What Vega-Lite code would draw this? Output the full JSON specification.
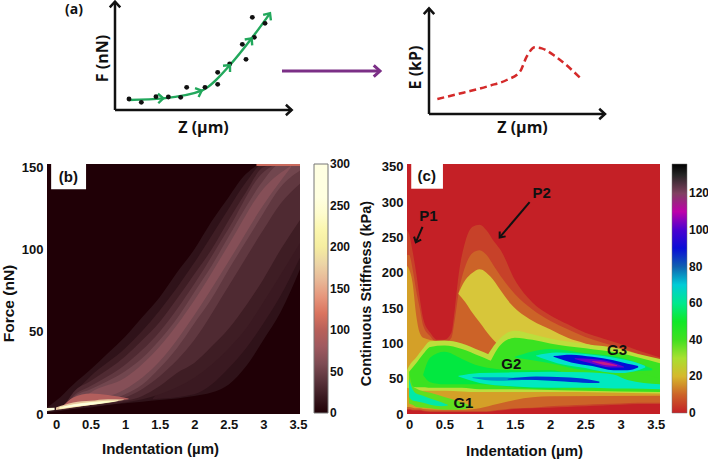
{"$schema":"https://vega.github.io/schema/vega-lite/v6.json","autosize":{"type":"none"},"padding":{"left":47,"top":2,"right":661,"bottom":458},"background":"white","spacing":162,"bounds":"flush","resolve":{"scale":{"color":"independent"}},
"config":{"view":{"stroke":null},"font":"Liberation Sans","axis":{"grid":false,"ticks":false,"domain":false,"labelFontWeight":"bold","labelFontSize":13,"labelColor":"#111","titleColor":"#111","titleFontWeight":"bold","titleFontSize":15,"labelPadding":4,"labelFlush":false,"titleBaseline":"middle","titleAlign":"center","tickCount":20}},
"vconcat":[
{"spacing":107,"bounds":"flush","hconcat":[
{"width":253,"height":112,"layer":[
{"data":{"values":[{"s":"y","z":0,"v":0},{"s":"y","z":0,"v":3.25},{"s":"x","z":0,"v":0},{"s":"x","z":5.3,"v":0}]},"mark":{"type":"line","color":"#111","strokeWidth":2.5},"encoding":{"x":{"field":"z","type":"quantitative","scale":{"domain":[-2.04,5.55],"nice":false,"zero":false},"axis":{"labels":false,"title":"Z (µm)","titleX":156,"titleY":13,"titleFont":"Open Sans","titleFontSize":16}},"y":{"field":"v","type":"quantitative","scale":{"domain":[-0.12,3.24],"nice":false,"zero":false},"axis":{"labels":false,"title":"F (nN)","titleX":55,"titleY":56,"titleFont":"Open Sans","titleFontSize":16}},"detail":{"field":"s"}}},
{"data":{"values":[{"z":0,"v":3.25,"heading":0},{"z":5.3,"v":0,"heading":90}]},"mark":{"type":"point","shape":"M-1,1.1L0,0L1,1.1","filled":false,"color":"#111","strokeWidth":2.5,"size":110,"opacity":1},"encoding":{"x":{"field":"z","type":"quantitative"},"y":{"field":"v","type":"quantitative"},"angle":{"field":"heading","type":"quantitative","scale":null}}},
{"data":{"values":[{"z":0.42,"v":0.30},{"z":1.45,"v":0.35},{"z":2.6,"v":0.58},{"z":3.45,"v":1.35},{"z":4.1,"v":2.15},{"z":4.65,"v":2.9}]},"mark":{"type":"line","color":"#22a85c","strokeWidth":2.4,"interpolate":"monotone"},"encoding":{"x":{"field":"z","type":"quantitative"},"y":{"field":"v","type":"quantitative"}}},
{"data":{"values":[{"z":0.42,"v":0.33},{"z":0.79,"v":0.23},{"z":1.23,"v":0.40},{"z":1.60,"v":0.39},{"z":1.97,"v":0.38},{"z":2.15,"v":0.68},{"z":2.70,"v":0.68},{"z":3.08,"v":1.13},{"z":3.08,"v":0.77},{"z":3.44,"v":1.38},{"z":3.82,"v":1.97},{"z":3.93,"v":1.52},{"z":4.12,"v":2.78},{"z":4.18,"v":2.18},{"z":4.50,"v":2.60}]},"mark":{"type":"circle","color":"#111","size":24,"opacity":1},"encoding":{"x":{"field":"z","type":"quantitative"},"y":{"field":"v","type":"quantitative"}}},
{"data":{"values":[{"z":1.45,"v":0.35,"heading":88},{"z":2.6,"v":0.58,"heading":68},{"z":3.45,"v":1.35,"heading":42},{"z":4.1,"v":2.15,"heading":38},{"z":4.65,"v":2.9,"heading":35}]},"mark":{"type":"point","shape":"M-1,1.1L0,0L1,1.1","filled":false,"color":"#22a85c","strokeWidth":2.4,"size":90,"opacity":1},"encoding":{"x":{"field":"z","type":"quantitative"},"y":{"field":"v","type":"quantitative"},"angle":{"field":"heading","type":"quantitative","scale":null}}},
{"data":{"values":[{"z":5.01,"v":1.17},{"z":7.95,"v":1.17}]},"mark":{"type":"line","color":"#7b2f86","strokeWidth":3,"clip":false},"encoding":{"x":{"field":"z","type":"quantitative"},"y":{"field":"v","type":"quantitative"}}},
{"data":{"values":[{"z":7.95,"v":1.17,"heading":90}]},"mark":{"type":"point","shape":"M-1,1.1L0,0L1,1.1","filled":false,"color":"#7b2f86","strokeWidth":3,"size":130,"opacity":1,"clip":false},"encoding":{"x":{"field":"z","type":"quantitative"},"y":{"field":"v","type":"quantitative"},"angle":{"field":"heading","type":"quantitative","scale":null}}},
{"data":{"values":[{"z":-1.5,"v":3.0,"t":"(a)"}]},"mark":{"type":"text","font":"Open Sans","fontWeight":"bold","fontSize":14,"align":"left","color":"#111"},"encoding":{"x":{"field":"z","type":"quantitative"},"y":{"field":"v","type":"quantitative"},"text":{"field":"t"}}}
]},
{"width":253,"height":112,"layer":[
{"data":{"values":[{"s":"y","z":0,"v":0},{"s":"y","z":0,"v":3.17},{"s":"x","z":0,"v":0},{"s":"x","z":5.28,"v":0}]},"mark":{"type":"line","color":"#111","strokeWidth":2.5},"encoding":{"x":{"field":"z","type":"quantitative","scale":{"domain":[-0.66,6.93],"nice":false,"zero":false},"axis":{"labels":false,"title":"Z (µm)","titleX":115,"titleY":13,"titleFont":"Open Sans","titleFontSize":16}},"y":{"field":"v","type":"quantitative","scale":{"domain":[0,3.36],"nice":false,"zero":false},"axis":{"labels":false,"title":"E (kP)","titleX":8,"titleY":65,"titleFont":"Open Sans","titleFontSize":16}},"detail":{"field":"s"}}},
{"data":{"values":[{"z":0,"v":3.17,"heading":0},{"z":5.28,"v":0,"heading":90}]},"mark":{"type":"point","shape":"M-1,1.1L0,0L1,1.1","filled":false,"color":"#111","strokeWidth":2.5,"size":110,"opacity":1},"encoding":{"x":{"field":"z","type":"quantitative"},"y":{"field":"v","type":"quantitative"},"angle":{"field":"heading","type":"quantitative","scale":null}}},
{"data":{"values":[{"z":0.25,"v":0.45},{"z":1.03,"v":0.64},{"z":1.83,"v":0.85},{"z":2.33,"v":1.02},{"z":2.73,"v":1.27},{"z":2.93,"v":1.72},{"z":3.18,"v":2.0},{"z":3.38,"v":1.97},{"z":3.83,"v":1.70},{"z":4.53,"v":1.09}]},"mark":{"type":"line","color":"#d42a2a","strokeWidth":2.5,"strokeDash":[7,4],"interpolate":"monotone"},"encoding":{"x":{"field":"z","type":"quantitative"},"y":{"field":"v","type":"quantitative"}}}
]}
]},
{"spacing":107,"bounds":"flush","resolve":{"scale":{"color":"independent"}},"hconcat":[
{"width":253,"height":250,"view":{"fill":"#200006"},"layer":[
{"data":{"values":[
{"b":"a","v":12,"x":-0.13,"lo":1,"hi":4},{"b":"a","v":12,"x":0,"lo":1.5,"hi":8},{"b":"a","v":12,"x":0.25,"lo":3,"hi":18},{"b":"a","v":12,"x":0.5,"lo":4,"hi":27},{"b":"a","v":12,"x":0.75,"lo":5.5,"hi":37},{"b":"a","v":12,"x":1,"lo":6.5,"hi":47},{"b":"a","v":12,"x":1.25,"lo":7.5,"hi":59},{"b":"a","v":12,"x":1.5,"lo":8.5,"hi":71},{"b":"a","v":12,"x":1.75,"lo":9.5,"hi":86},{"b":"a","v":12,"x":2,"lo":11,"hi":100},{"b":"a","v":12,"x":2.25,"lo":13,"hi":117},{"b":"a","v":12,"x":2.5,"lo":18,"hi":132},{"b":"a","v":12,"x":2.75,"lo":29,"hi":146},{"b":"a","v":12,"x":3,"lo":45,"hi":152},{"b":"a","v":12,"x":3.25,"lo":62,"hi":152},{"b":"a","v":12,"x":3.53,"lo":88,"hi":152},
{"b":"s","v":19,"x":1.4,"lo":9,"hi":9.5},{"b":"s","v":19,"x":2,"lo":12,"hi":38},{"b":"s","v":19,"x":2.25,"lo":18,"hi":50},{"b":"s","v":19,"x":2.5,"lo":28,"hi":65},{"b":"s","v":19,"x":2.75,"lo":40,"hi":80},{"b":"s","v":19,"x":3,"lo":55,"hi":97},{"b":"s","v":19,"x":3.25,"lo":72,"hi":115},{"b":"s","v":19,"x":3.53,"lo":95,"hi":132},
{"b":"a2","v":22,"x":0.05,"lo":2.2,"hi":2.6},{"b":"a2","v":22,"x":0.5,"lo":4.5,"hi":23},{"b":"a2","v":22,"x":1,"lo":7,"hi":40},{"b":"a2","v":22,"x":1.5,"lo":12,"hi":63},{"b":"a2","v":22,"x":2,"lo":22,"hi":92},{"b":"a2","v":22,"x":2.5,"lo":40,"hi":125},{"b":"a2","v":22,"x":2.75,"lo":52,"hi":141},{"b":"a2","v":22,"x":3,"lo":68,"hi":152},{"b":"a2","v":22,"x":3.53,"lo":104,"hi":152},
{"b":"m","v":32,"x":0.1,"lo":2.8,"hi":3.2},{"b":"m","v":32,"x":0.25,"lo":4,"hi":13},{"b":"m","v":32,"x":0.5,"lo":5.5,"hi":20},{"b":"m","v":32,"x":0.75,"lo":6.5,"hi":27},{"b":"m","v":32,"x":1,"lo":8,"hi":35},{"b":"m","v":32,"x":1.25,"lo":11,"hi":45},{"b":"m","v":32,"x":1.5,"lo":17,"hi":56},{"b":"m","v":32,"x":1.75,"lo":25,"hi":70},{"b":"m","v":32,"x":2,"lo":31,"hi":85},{"b":"m","v":32,"x":2.25,"lo":41,"hi":100},{"b":"m","v":32,"x":2.5,"lo":52,"hi":118},{"b":"m","v":32,"x":2.75,"lo":66,"hi":135},{"b":"m","v":32,"x":3,"lo":82,"hi":150},{"b":"m","v":32,"x":3.25,"lo":100,"hi":152},{"b":"m","v":32,"x":3.53,"lo":118,"hi":152},
{"b":"m2","v":42,"x":0.1,"lo":3,"hi":3.5},{"b":"m2","v":42,"x":0.25,"lo":4.5,"hi":11},{"b":"m2","v":42,"x":0.5,"lo":6,"hi":17},{"b":"m2","v":42,"x":1,"lo":10,"hi":30},{"b":"m2","v":42,"x":1.5,"lo":23,"hi":50},{"b":"m2","v":42,"x":2,"lo":45,"hi":79},{"b":"m2","v":42,"x":2.5,"lo":78,"hi":113},{"b":"m2","v":42,"x":3,"lo":112,"hi":147},{"b":"m2","v":42,"x":3.25,"lo":128,"hi":152},{"b":"m2","v":42,"x":3.53,"lo":140,"hi":152},
{"b":"r","v":52,"x":0.15,"lo":4,"hi":4.5},{"b":"r","v":52,"x":0.25,"lo":5,"hi":10},{"b":"r","v":52,"x":0.5,"lo":6.5,"hi":15},{"b":"r","v":52,"x":0.75,"lo":8,"hi":20},{"b":"r","v":52,"x":1,"lo":12,"hi":26},{"b":"r","v":52,"x":1.25,"lo":18,"hi":34},{"b":"r","v":52,"x":1.5,"lo":28,"hi":45},{"b":"r","v":52,"x":1.75,"lo":40,"hi":58},{"b":"r","v":52,"x":2,"lo":55,"hi":74},{"b":"r","v":52,"x":2.25,"lo":70,"hi":90},{"b":"r","v":52,"x":2.5,"lo":88,"hi":108},{"b":"r","v":52,"x":2.75,"lo":105,"hi":126},{"b":"r","v":52,"x":3,"lo":122,"hi":142},{"b":"r","v":52,"x":3.25,"lo":138,"hi":152},{"b":"r","v":52,"x":3.53,"lo":148,"hi":152},
{"b":"r2","v":64,"x":0.3,"lo":6,"hi":6.5},{"b":"r2","v":64,"x":0.5,"lo":8,"hi":13},{"b":"r2","v":64,"x":1,"lo":15,"hi":22},{"b":"r2","v":64,"x":1.5,"lo":32,"hi":41},{"b":"r2","v":64,"x":2,"lo":60,"hi":69},{"b":"r2","v":64,"x":2.5,"lo":93,"hi":103},{"b":"r2","v":64,"x":3,"lo":127,"hi":137},{"b":"r2","v":64,"x":3.4,"lo":150,"hi":151},
{"b":"p","v":95,"x":0.08,"lo":3.4,"hi":3.8},{"b":"p","v":95,"x":0.25,"lo":4.5,"hi":10},{"b":"p","v":95,"x":0.5,"lo":6,"hi":12.5},{"b":"p","v":95,"x":0.75,"lo":7.5,"hi":11.5},{"b":"p","v":95,"x":1.05,"lo":9,"hi":9.4},
{"b":"q","v":170,"x":0,"lo":2.5,"hi":4},{"b":"q","v":170,"x":0.25,"lo":4,"hi":7},{"b":"q","v":170,"x":0.5,"lo":5.5,"hi":8},{"b":"q","v":170,"x":0.75,"lo":7,"hi":9},{"b":"q","v":170,"x":0.98,"lo":8.5,"hi":8.8},
{"b":"t","v":235,"x":0.05,"lo":3,"hi":4.2},{"b":"t","v":235,"x":0.25,"lo":4.3,"hi":6},{"b":"t","v":235,"x":0.5,"lo":5.5,"hi":7.3},{"b":"t","v":235,"x":0.75,"lo":6.8,"hi":8},{"b":"t","v":235,"x":0.9,"lo":7.9,"hi":8.2},
{"b":"w","v":300,"x":0.1,"lo":3.9,"hi":4.2},{"b":"w","v":300,"x":0.25,"lo":4.7,"hi":5.6},{"b":"w","v":300,"x":0.5,"lo":5.8,"hi":6.8},{"b":"w","v":300,"x":0.72,"lo":7,"hi":7.2},
{"b":"k","v":250,"x":-0.13,"lo":1.8,"hi":3.6},{"b":"k","v":250,"x":-0.02,"lo":2.4,"hi":3.8},
{"b":"l","v":110,"x":2.9,"lo":150.8,"hi":152},{"b":"l","v":110,"x":3.53,"lo":150.8,"hi":152}
]},"mark":{"type":"area","interpolate":"monotone","clip":true},"encoding":{"x":{"field":"x","type":"quantitative","scale":{"domain":[-0.13,3.53],"nice":false,"zero":false},"axis":{"values":[0,0.5,1,1.5,2,2.5,3,3.5],"format":"~g","title":"Indentation (µm)","titleX":113,"titleY":34}},"y":{"field":"lo","type":"quantitative","scale":{"domain":[0,152],"nice":false},"axis":{"values":[0,50,100,150],"title":"Force (nN)","titleX":-39,"titleY":139,"titleFontSize":15.5}},"y2":{"field":"hi"},"detail":{"field":"b"},"color":{"field":"v","type":"quantitative","scale":{"domain":[0,25,50,75,100,125,150,175,200,225,250,300],"range":["#200006","#432028","#6e444c","#98585f","#b8605a","#e27a60","#e8a890","#e8d0a8","#f5eda0","#fdf8b0","#ffffe0","#ffffff"]},"legend":{"orient":"none","legendX":267,"legendY":0,"title":null,"direction":"vertical","gradientLength":249,"gradientThickness":14,"values":[0,50,100,150,200,250,300],"labelFontWeight":"bold","labelFontSize":12,"labelOffset":2,"labelColor":"#111","labelOverlap":false,"gradientStrokeColor":"#777","gradientStrokeWidth":1,"encode":{"labels":{"update":{"baseline":{"value":"middle"}}}}}}}},
{"data":{"values":[{"x":-0.07,"x2":0.435,"y":136.6,"y2":152}]},"mark":{"type":"rect","color":"white"},"encoding":{"x":{"field":"x","type":"quantitative"},"x2":{"field":"x2"},"y":{"field":"y","type":"quantitative"},"y2":{"field":"y2"}}},
{"data":{"values":[{"x":0.18,"y":144,"t":"(b)"}]},"mark":{"type":"text","fontWeight":"bold","fontSize":15,"color":"#111"},"encoding":{"x":{"field":"x","type":"quantitative"},"y":{"field":"y","type":"quantitative"},"text":{"field":"t"}}}
]},
{"width":253,"height":250,"view":{"fill":"#c42026"},"layer":[
{"data":{"values":[
{"b":"e0","v":5,"x":-0.03,"lo":6,"hi":260},{"b":"e0","v":5,"x":0,"lo":6,"hi":255},{"b":"e0","v":5,"x":0.05,"lo":5,"hi":230},{"b":"e0","v":5,"x":0.1,"lo":5,"hi":200},{"b":"e0","v":5,"x":0.15,"lo":5,"hi":165},{"b":"e0","v":5,"x":0.2,"lo":4,"hi":135},{"b":"e0","v":5,"x":0.3,"lo":3,"hi":115},{"b":"e0","v":5,"x":0.4,"lo":3,"hi":105},{"b":"e0","v":5,"x":0.5,"lo":3,"hi":105},{"b":"e0","v":5,"x":0.6,"lo":3,"hi":115},{"b":"e0","v":5,"x":0.65,"lo":3,"hi":150},{"b":"e0","v":5,"x":0.7,"lo":3,"hi":195},{"b":"e0","v":5,"x":0.8,"lo":3,"hi":245},{"b":"e0","v":5,"x":0.9,"lo":3,"hi":265},{"b":"e0","v":5,"x":1,"lo":3,"hi":268},{"b":"e0","v":5,"x":1.1,"lo":3,"hi":260},{"b":"e0","v":5,"x":1.2,"lo":4,"hi":245},{"b":"e0","v":5,"x":1.3,"lo":5,"hi":232},{"b":"e0","v":5,"x":1.5,"lo":7,"hi":190},{"b":"e0","v":5,"x":1.75,"lo":8,"hi":158},{"b":"e0","v":5,"x":2,"lo":9,"hi":140},{"b":"e0","v":5,"x":2.25,"lo":10,"hi":127},{"b":"e0","v":5,"x":2.5,"lo":11,"hi":115},{"b":"e0","v":5,"x":2.75,"lo":12,"hi":107},{"b":"e0","v":5,"x":3,"lo":13,"hi":99},{"b":"e0","v":5,"x":3.25,"lo":14,"hi":90},{"b":"e0","v":5,"x":3.56,"lo":14,"hi":80},
{"b":"e","v":10,"x":-0.03,"lo":7,"hi":225},{"b":"e","v":10,"x":0,"lo":7,"hi":225},{"b":"e","v":10,"x":0.05,"lo":6,"hi":205},{"b":"e","v":10,"x":0.1,"lo":6,"hi":175},{"b":"e","v":10,"x":0.15,"lo":6,"hi":150},{"b":"e","v":10,"x":0.2,"lo":5,"hi":125},{"b":"e","v":10,"x":0.3,"lo":4,"hi":110},{"b":"e","v":10,"x":0.4,"lo":4,"hi":100},{"b":"e","v":10,"x":0.5,"lo":4,"hi":100},{"b":"e","v":10,"x":0.6,"lo":4,"hi":108},{"b":"e","v":10,"x":0.65,"lo":4,"hi":135},{"b":"e","v":10,"x":0.7,"lo":4,"hi":170},{"b":"e","v":10,"x":0.8,"lo":4,"hi":210},{"b":"e","v":10,"x":0.9,"lo":4,"hi":228},{"b":"e","v":10,"x":1,"lo":4,"hi":232},{"b":"e","v":10,"x":1.1,"lo":4,"hi":225},{"b":"e","v":10,"x":1.2,"lo":5,"hi":210},{"b":"e","v":10,"x":1.3,"lo":6,"hi":195},{"b":"e","v":10,"x":1.5,"lo":8,"hi":170},{"b":"e","v":10,"x":1.75,"lo":9,"hi":148},{"b":"e","v":10,"x":2,"lo":11,"hi":132},{"b":"e","v":10,"x":2.25,"lo":12,"hi":120},{"b":"e","v":10,"x":2.5,"lo":13,"hi":109},{"b":"e","v":10,"x":2.75,"lo":14,"hi":101},{"b":"e","v":10,"x":3,"lo":15,"hi":94},{"b":"e","v":10,"x":3.25,"lo":16,"hi":85},{"b":"e","v":10,"x":3.56,"lo":16,"hi":76},
{"b":"d","v":17,"x":-0.03,"lo":10,"hi":210},{"b":"d","v":17,"x":0,"lo":10,"hi":205},{"b":"d","v":17,"x":0.05,"lo":9,"hi":185},{"b":"d","v":17,"x":0.1,"lo":8,"hi":140},{"b":"d","v":17,"x":0.15,"lo":8,"hi":115},{"b":"d","v":17,"x":0.2,"lo":7,"hi":108},{"b":"d","v":17,"x":0.4,"lo":6,"hi":103},{"b":"d","v":17,"x":0.6,"lo":6,"hi":97},{"b":"d","v":17,"x":0.8,"lo":6,"hi":90},{"b":"d","v":17,"x":1,"lo":8,"hi":85},{"b":"d","v":17,"x":1.25,"lo":14,"hi":78},{"b":"d","v":17,"x":1.5,"lo":20,"hi":62},{"b":"d","v":17,"x":2,"lo":25,"hi":50},{"b":"d","v":17,"x":3.56,"lo":26,"hi":40},
{"b":"h","v":22,"x":0.7,"lo":170,"hi":171},{"b":"h","v":22,"x":0.8,"lo":158,"hi":190},{"b":"h","v":22,"x":0.9,"lo":143,"hi":200},{"b":"h","v":22,"x":1,"lo":130,"hi":205},{"b":"h","v":22,"x":1.15,"lo":110,"hi":195},{"b":"h","v":22,"x":1.3,"lo":95,"hi":175},{"b":"h","v":22,"x":1.45,"lo":85,"hi":155},{"b":"h","v":22,"x":1.75,"lo":70,"hi":132},{"b":"h","v":22,"x":2,"lo":60,"hi":120},{"b":"h","v":22,"x":2.25,"lo":58,"hi":108},{"b":"h","v":22,"x":2.5,"lo":56,"hi":100},{"b":"h","v":22,"x":2.75,"lo":56,"hi":93},{"b":"h","v":22,"x":3,"lo":55,"hi":86},{"b":"h","v":22,"x":3.25,"lo":55,"hi":78},{"b":"h","v":22,"x":3.56,"lo":55,"hi":70},
{"b":"f","v":28,"x":-0.03,"lo":37,"hi":62},{"b":"f","v":28,"x":0,"lo":36,"hi":68},{"b":"f","v":28,"x":0.1,"lo":33,"hi":80},{"b":"f","v":28,"x":0.2,"lo":33,"hi":93},{"b":"f","v":28,"x":0.3,"lo":33,"hi":103},{"b":"f","v":28,"x":0.5,"lo":33,"hi":104},{"b":"f","v":28,"x":0.75,"lo":32,"hi":100},{"b":"f","v":28,"x":1,"lo":31,"hi":90},{"b":"f","v":28,"x":1.25,"lo":31,"hi":80},{"b":"f","v":28,"x":1.5,"lo":31,"hi":75},{"b":"f","v":28,"x":2,"lo":31,"hi":70},{"b":"f","v":28,"x":3.56,"lo":29,"hi":60},
{"b":"g","v":28,"x":1.05,"lo":72,"hi":73},{"b":"g","v":28,"x":1.3,"lo":70,"hi":108},{"b":"g","v":28,"x":1.5,"lo":70,"hi":118},{"b":"g","v":28,"x":1.75,"lo":70,"hi":113},{"b":"g","v":28,"x":2,"lo":70,"hi":107},{"b":"g","v":28,"x":2.5,"lo":70,"hi":99},{"b":"g","v":28,"x":3,"lo":70,"hi":92},{"b":"g","v":28,"x":3.25,"lo":70,"hi":85},{"b":"g","v":28,"x":3.56,"lo":60,"hi":78},
{"b":"i","v":42,"x":0,"lo":40,"hi":60},{"b":"i","v":42,"x":0.1,"lo":38,"hi":72},{"b":"i","v":42,"x":0.2,"lo":38,"hi":85},{"b":"i","v":42,"x":0.3,"lo":37,"hi":95},{"b":"i","v":42,"x":0.5,"lo":37,"hi":97},{"b":"i","v":42,"x":0.75,"lo":37,"hi":92},{"b":"i","v":42,"x":1,"lo":35,"hi":82},{"b":"i","v":42,"x":1.25,"lo":35,"hi":72},{"b":"i","v":42,"x":1.5,"lo":35,"hi":68},{"b":"i","v":42,"x":2,"lo":34,"hi":66},{"b":"i","v":42,"x":3,"lo":32,"hi":64},{"b":"i","v":42,"x":3.56,"lo":31,"hi":58},
{"b":"j","v":42,"x":1.12,"lo":66,"hi":67},{"b":"j","v":42,"x":1.3,"lo":62,"hi":98},{"b":"j","v":42,"x":1.5,"lo":62,"hi":108},{"b":"j","v":42,"x":1.75,"lo":62,"hi":105},{"b":"j","v":42,"x":2,"lo":62,"hi":100},{"b":"j","v":42,"x":2.5,"lo":62,"hi":93},{"b":"j","v":42,"x":3,"lo":60,"hi":86},{"b":"j","v":42,"x":3.25,"lo":58,"hi":80},{"b":"j","v":42,"x":3.56,"lo":50,"hi":72},
{"b":"n","v":52,"x":0.2,"lo":55,"hi":56},{"b":"n","v":52,"x":0.3,"lo":45,"hi":80},{"b":"n","v":52,"x":0.5,"lo":42,"hi":88},{"b":"n","v":52,"x":0.75,"lo":42,"hi":78},{"b":"n","v":52,"x":1,"lo":42,"hi":68},{"b":"n","v":52,"x":1.5,"lo":38,"hi":62},{"b":"n","v":52,"x":2,"lo":36,"hi":62},{"b":"n","v":52,"x":2.5,"lo":40,"hi":45},
{"b":"o","v":55,"x":1.5,"lo":80,"hi":81},{"b":"o","v":55,"x":2,"lo":72,"hi":92},{"b":"o","v":55,"x":2.5,"lo":62,"hi":86},{"b":"o","v":55,"x":3,"lo":60,"hi":80},{"b":"o","v":55,"x":3.45,"lo":62,"hi":64},
{"b":"u","v":38,"x":0,"lo":15,"hi":60},{"b":"u","v":38,"x":0.05,"lo":13,"hi":40},{"b":"u","v":38,"x":0.1,"lo":10,"hi":36},{"b":"u","v":38,"x":0.3,"lo":8,"hi":30},{"b":"u","v":38,"x":0.5,"lo":6,"hi":24},{"b":"u","v":38,"x":0.7,"lo":6,"hi":18},{"b":"u","v":38,"x":0.9,"lo":10,"hi":11},
{"b":"y","v":62,"x":0,"lo":24,"hi":50},{"b":"y","v":62,"x":0.05,"lo":19,"hi":35},{"b":"y","v":62,"x":0.1,"lo":18,"hi":29},{"b":"y","v":62,"x":0.2,"lo":16,"hi":26},{"b":"y","v":62,"x":0.3,"lo":13,"hi":22},{"b":"y","v":62,"x":0.45,"lo":11,"hi":17},{"b":"y","v":62,"x":0.55,"lo":12,"hi":13},
{"b":"c","v":64,"x":0.7,"lo":53,"hi":54},{"b":"c","v":64,"x":1,"lo":44,"hi":58},{"b":"c","v":64,"x":1.5,"lo":39,"hi":59},{"b":"c","v":64,"x":2,"lo":37,"hi":60},{"b":"c","v":64,"x":2.5,"lo":37,"hi":59},{"b":"c","v":64,"x":2.9,"lo":36,"hi":56},{"b":"c","v":64,"x":3.1,"lo":36,"hi":48},{"b":"c","v":64,"x":3.56,"lo":35,"hi":42},
{"b":"z","v":66,"x":1.8,"lo":82,"hi":83},{"b":"z","v":66,"x":2.1,"lo":72,"hi":87},{"b":"z","v":66,"x":2.5,"lo":65,"hi":85},{"b":"z","v":66,"x":2.75,"lo":60,"hi":82},{"b":"z","v":66,"x":3,"lo":58,"hi":78},{"b":"z","v":66,"x":3.25,"lo":62,"hi":72},{"b":"z","v":66,"x":3.35,"lo":66,"hi":68},
{"b":"b1","v":76,"x":0.9,"lo":51,"hi":52},{"b":"b1","v":76,"x":1.25,"lo":47,"hi":52},{"b":"b1","v":76,"x":1.7,"lo":49,"hi":50},
{"b":"b2","v":86,"x":1.4,"lo":49,"hi":50},{"b":"b2","v":86,"x":1.8,"lo":48,"hi":53},{"b":"b2","v":86,"x":2.2,"lo":46,"hi":52},{"b":"b2","v":86,"x":2.55,"lo":44,"hi":49},{"b":"b2","v":86,"x":2.7,"lo":44,"hi":46},
{"b":"b3","v":88,"x":2.05,"lo":81,"hi":82},{"b":"b3","v":88,"x":2.3,"lo":73,"hi":84},{"b":"b3","v":88,"x":2.6,"lo":68,"hi":81},{"b":"b3","v":88,"x":2.9,"lo":62,"hi":76},{"b":"b3","v":88,"x":3.1,"lo":62,"hi":71},{"b":"b3","v":88,"x":3.25,"lo":66,"hi":68},
{"b":"b4","v":102,"x":2.35,"lo":78,"hi":79},{"b":"b4","v":102,"x":2.6,"lo":71,"hi":78},{"b":"b4","v":102,"x":2.85,"lo":66,"hi":74},{"b":"b4","v":102,"x":3.05,"lo":66,"hi":67},
{"b":"b5","v":114,"x":2.6,"lo":74,"hi":75},{"b":"b5","v":114,"x":2.8,"lo":69,"hi":73},{"b":"b5","v":114,"x":2.95,"lo":68,"hi":69}
]},"mark":{"type":"area","interpolate":"monotone","clip":true},"encoding":{"x":{"field":"x","type":"quantitative","scale":{"domain":[-0.03,3.56],"nice":false,"zero":false},"axis":{"values":[0,0.5,1,1.5,2,2.5,3,3.5],"format":"~g","title":"Indentation (µm)","titleX":117,"titleY":36}},"y":{"field":"lo","type":"quantitative","scale":{"domain":[0,354],"nice":false},"axis":{"values":[0,50,100,150,200,250,300,350],"title":"Continuous Stiffness (kPa)","titleX":-41,"titleY":129,"titleFontSize":14.5}},"y2":{"field":"hi"},"detail":{"field":"b"},"color":{"field":"v","type":"quantitative","scale":{"domain":[0,8,15,20,25,30,40,50,58,65,72,80,88,98,106,113,120,128,136],"range":["#c42026","#c8502c","#d09028","#d6b82c","#d8dc50","#a8e030","#40e020","#10e828","#10e870","#20e8c8","#20c0d8","#1060b0","#0010d8","#2000d0","#9000d0","#d00090","#804060","#303030","#000000"]},"legend":{"orient":"none","legendX":265,"legendY":0,"title":null,"direction":"vertical","gradientLength":249,"gradientThickness":15,"values":[0,20,40,60,80,100,120],"labelFontWeight":"bold","labelFontSize":12,"labelOffset":2,"labelColor":"#111","labelOverlap":false,"gradientStrokeColor":"#777","gradientStrokeWidth":0.5,"encode":{"labels":{"update":{"baseline":{"value":"middle"}}}}}}}},
{"data":{"values":[{"x":0.03,"x2":0.48,"y":319,"y2":354}]},"mark":{"type":"rect","color":"white"},"encoding":{"x":{"field":"x","type":"quantitative"},"x2":{"field":"x2"},"y":{"field":"y","type":"quantitative"},"y2":{"field":"y2"}}},
{"data":{"values":[{"x":0.25,"y":337,"t":"(c)"},{"x":0.275,"y":280,"t":"P1"},{"x":1.88,"y":313,"t":"P2"},{"x":0.77,"y":15.6,"t":"G1"},{"x":1.45,"y":71,"t":"G2"},{"x":2.95,"y":91,"t":"G3"}]},"mark":{"type":"text","fontWeight":"bold","fontSize":15,"color":"#111"},"encoding":{"x":{"field":"x","type":"quantitative"},"y":{"field":"y","type":"quantitative"},"text":{"field":"t"}}},
{"data":{"values":[{"s":"P1","x":0.19,"y":265},{"s":"P1","x":0.095,"y":243},{"s":"P2","x":1.71,"y":300},{"s":"P2","x":1.285,"y":250}]},"mark":{"type":"line","color":"#111","strokeWidth":2},"encoding":{"x":{"field":"x","type":"quantitative"},"y":{"field":"y","type":"quantitative"},"detail":{"field":"s"}}},
{"data":{"values":[{"x":0.095,"y":243,"heading":203},{"x":1.285,"y":250,"heading":220}]},"mark":{"type":"point","shape":"M-1,1.2L0,0L1,1.2","filled":false,"color":"#111","strokeWidth":2,"size":60,"opacity":1},"encoding":{"x":{"field":"x","type":"quantitative"},"y":{"field":"y","type":"quantitative"},"angle":{"field":"heading","type":"quantitative","scale":null}}}
]}
]}
]}
